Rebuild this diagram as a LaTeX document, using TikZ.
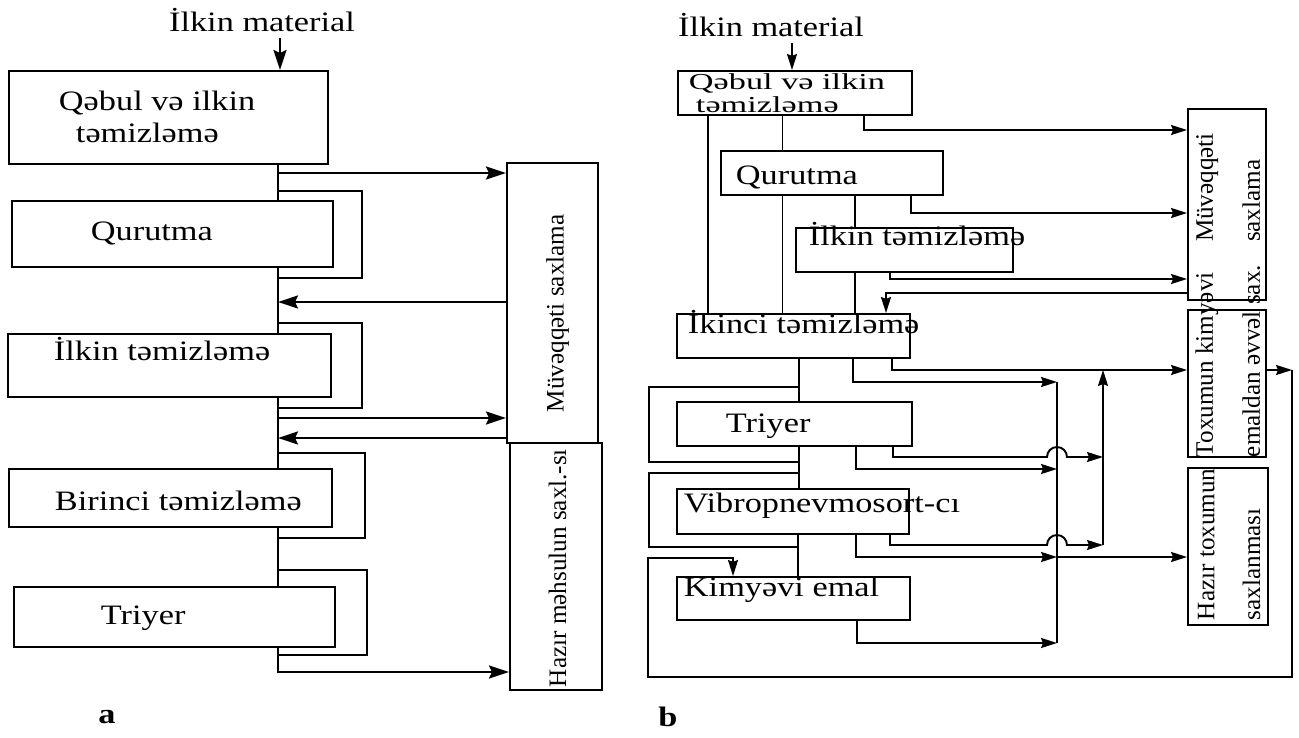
\documentclass[tikz,border=0pt]{standalone}
\usepackage{fontspec}
\setmainfont{Liberation Serif}
\newfontfamily\wideserif{Liberation Serif}[FakeStretch=1.22]
\newfontfamily\widerserif{Liberation Serif}[FakeStretch=1.5]
\usetikzlibrary{arrows.meta, positioning, calc}

\newcommand{\boxtext}[3]{\makebox[#1][l]{\hspace*{#2}#3}}

\tikzset{
  stage/.style={draw, line width=1.1pt, inner sep=0pt, anchor=north west,
    font=\wideserif\fontsize{16}{18}\selectfont},
  store/.style={draw, line width=1.1pt, inner sep=0pt, rotate=90,
    font=\fontsize{14.3}{16}\selectfont},
  heading/.style={font=\wideserif\fontsize{16}{18}\selectfont},
  panel/.style={font=\wideserif\bfseries\fontsize{16}{18}\selectfont},
  wire/.style={line width=1.5pt},
  flow/.style={wire, -{Stealth[length=4mm, width=2.6mm, inset=0.6mm]}},
  thin wire/.style={line width=1.1pt},
  thin flow/.style={thin wire, -{Stealth[length=3.2mm, width=2mm, inset=0.4mm]}},
}

\begin{document}
\begin{tikzpicture}
  \useasboundingbox (0,0) rectangle (25.98,-14.76);

  % Scheme a
  \node[heading] (ina) at (5.24,-0.40) {İlkin material};
  \node[stage, text height=0.80cm, text depth=1.06cm] (qa) at (0.16,-1.40)
    {\boxtext{6.38cm}{1.0cm}{\begin{tabular}[t]{@{}l@{}}Qəbul və ilkin\\\hspace*{0.34cm}təmizləmə\end{tabular}}};
  \node[stage, text height=0.80cm, text depth=0.52cm] (qb) at (0.22,-4.00) {\boxtext{6.42cm}{1.58cm}{Qurutma}};
  \node[stage, text height=0.54cm, text depth=0.72cm] (qc) at (0.14,-6.66) {\boxtext{6.46cm}{0.92cm}{İlkin təmizləmə}};
  \node[stage, text height=0.84cm, text depth=0.32cm] (qd) at (0.16,-9.36) {\boxtext{6.46cm}{0.92cm}{Birinci təmizləmə}};
  \node[stage, text height=0.76cm, text depth=0.44cm] (qe) at (0.26,-11.72) {\boxtext{6.42cm}{1.74cm}{Triyer}};

  \node[store, text height=1.13cm, text depth=0.69cm] (ma) at (11.05,-6.06) {\boxtext{5.60cm}{0.62cm}{Müvəqqəti saxlama}};
  \node[store, text height=1.12cm, text depth=0.72cm] (mb) at (11.12,-11.33) {\boxtext{4.94cm}{0.06cm}{Hazır məhsulun saxl.-sı}};

  \draw[flow] (ina.south -| 5.60,0) -- (qa.north -| 5.60,0);
  \draw[wire] (qa.south -| 5.56,0) -- (qb.north -| 5.56,0)
              (qb.south -| 5.56,0) -- (qc.north -| 5.56,0)
              (qc.south -| 5.56,0) -- (qd.north -| 5.56,0)
              (qd.south -| 5.56,0) -- (qe.north -| 5.56,0);
  % bypass loops
  \draw[wire] (5.56,-3.82) -| (7.24,-5.56) -- (5.56,-5.56);
  \draw[wire] (5.56,-6.46) -| (7.24,-8.16) -- (5.56,-8.16);
  \draw[wire] (5.56,-9.06) -| (7.30,-10.76) -- (5.56,-10.76);
  \draw[wire] (5.56,-11.40) -| (7.34,-13.10) -- (5.56,-13.10);
  % storage
  \draw[flow] (5.56,-3.46) -- (ma.north |- 0,-3.46);
  \draw[flow] (ma.north |- 0,-6.04) -- (5.56,-6.04);
  \draw[flow] (5.56,-8.36) -- (ma.north |- 0,-8.36);
  \draw[flow] (ma.north |- 0,-8.76) -- (5.56,-8.76);
  \draw[flow] (qe.south -| 5.56,0) |- (mb.north |- 0,-13.44);

  \node[panel] (la) at (2.14,-14.34) {a};

  % Scheme b
  \node[heading] (inb) at (15.42,-0.50) {İlkin material};
  \node[stage, font=\widerserif\fontsize{13}{14}\selectfont, text height=0.38cm, text depth=0.50cm] (rb1) at (13.54,-1.40)
    {\boxtext{4.68cm}{0.22cm}{\renewcommand{\arraystretch}{0.9}\begin{tabular}[t]{@{}l@{}}Qəbul və ilkin\\\hspace*{0.14cm}təmizləmə\end{tabular}}};
  \node[stage, text height=0.68cm, text depth=0.20cm] (rb2) at (14.40,-3.00) {\boxtext{4.44cm}{0.30cm}{Qurutma}};
  \node[stage, text height=0.36cm, text depth=0.52cm] (rb3) at (15.90,-4.54) {\boxtext{4.34cm}{0.26cm}{İlkin təmizləmə}};
  \node[stage, text height=0.40cm, text depth=0.48cm] (rb4) at (13.52,-6.26) {\boxtext{4.66cm}{0.22cm}{İkinci təmizləmə}};
  \node[stage, text height=0.62cm, text depth=0.26cm] (rb5) at (13.52,-8.02) {\boxtext{4.70cm}{0.98cm}{Triyer}};
  \node[stage, text height=0.48cm, text depth=0.42cm] (rb6) at (13.52,-9.76) {\boxtext{4.64cm}{0.14cm}{Vibropnevmosort-cı}};
  \node[stage, text height=0.40cm, text depth=0.46cm] (rb7) at (13.52,-11.52) {\boxtext{4.66cm}{0.14cm}{Kimyəvi emal}};

  \node[store, text height=0.98cm, text depth=0.58cm] (rm1) at (24.54,-4.09)
    {\boxtext{3.82cm}{1.16cm}{\begin{tabular}{@{}l@{}}Müvəqqəti\\[10.7pt]saxlama\end{tabular}}};
  \node[store, text height=0.98cm, text depth=0.58cm] (rm2) at (24.54,-7.67)
    {\boxtext{2.94cm}{0cm}{\begin{tabular}{@{}l@{}}Toxumun kimyəvi\\[10.7pt]emaldan əvvəl sax.\end{tabular}}};
  \node[store, text height=1.00cm, text depth=0.60cm] (rm3) at (24.56,-10.93)
    {\boxtext{3.14cm}{0.10cm}{\begin{tabular}{@{}l@{}}Hazır toxumun\\[10pt]saxlanması\end{tabular}}};

  \draw[thin flow] (inb.south -| 15.84,0) -- (rb1.north -| 15.84,0);
  \draw[thin wire] (rb1.south -| 14.16,0) -- (rb4.north -| 14.16,0);
  \draw[thin wire] (rb1.south -| 15.65,0) -- (rb2.north -| 15.65,0);
  \draw[thin wire] (rb2.south -| 15.65,0) -- (rb4.north -| 15.65,0);
  \draw[thin wire] (rb2.south -| 17.10,0) -- (rb3.north -| 17.10,0);
  \draw[thin wire] (rb3.south -| 17.10,0) -- (rb4.north -| 17.10,0);
  \draw[thin wire] (rb4.south -| 15.98,0) -- (rb5.north -| 15.98,0);
  \draw[thin wire] (rb5.south -| 15.98,0) -- (rb6.north -| 15.98,0);
  \draw[thin wire] (rb6.south -| 15.96,0) -- (rb7.north -| 15.96,0);
  % loops round Triyer and Vibropnevmosort-cı
  \draw[thin wire] (15.98,-7.74) -| (12.98,-9.24) -- (15.98,-9.24);
  \draw[thin wire] (15.96,-9.46) -| (12.98,-10.94) -- (15.96,-10.94);

  % to temporary storage and back
  \draw[thin flow] (rb1.south -| 17.28,0) |- (rm1.north |- 0,-2.60);
  \draw[thin flow] (rb2.south -| 18.22,0) |- (rm1.north |- 0,-4.26);
  \draw[thin flow] (rb3.south -| 17.80,0) |- (rm1.north |- 0,-5.58);
  \draw[thin flow] (rm1.north |- 0,-5.86) -| (rb4.north -| 17.72,0);

  % outlets
  \draw[thin flow] (rb4.south -| 17.84,0) |- (rm2.north |- 0,-7.40);
  \draw[thin flow] (rb4.south -| 17.06,0) |- (21.14,-7.64);
  \draw[thin flow] (rb5.south -| 17.86,0) |- (20.94,-9.14) arc[start angle=180, end angle=0, radius=0.2] -- (22.06,-9.14);
  \draw[thin flow] (rb5.south -| 17.12,0) |- (21.14,-9.38);
  \draw[thin flow] (rb6.south -| 17.80,0) |- (20.94,-10.90) arc[start angle=180, end angle=0, radius=0.2] -- (22.06,-10.90);
  \draw[thin flow] (rb6.south -| 17.12,0) |- (21.14,-11.14);
  \draw[thin flow] (21.14,-11.14) -- (rm3.north |- 0,-11.14);
  \draw[thin flow] (rb7.south -| 17.14,0) |- (21.14,-12.86);
  \draw[thin wire] (21.14,-7.64) -- (21.14,-12.86);
  \draw[thin flow] (22.06,-10.90) -- (22.06,-7.40);

  % back to chemical treatment
  \draw[thin flow] (rm2.south |- 0,-7.40) -- (25.84,-7.40);
  \draw[thin flow] (25.84,-7.40) |- (12.96,-13.54) |- (14.66,-11.16) -- (rb7.north -| 14.66,0);

  \node[panel] (lb) at (13.36,-14.34) {b};
\end{tikzpicture}
\end{document}
